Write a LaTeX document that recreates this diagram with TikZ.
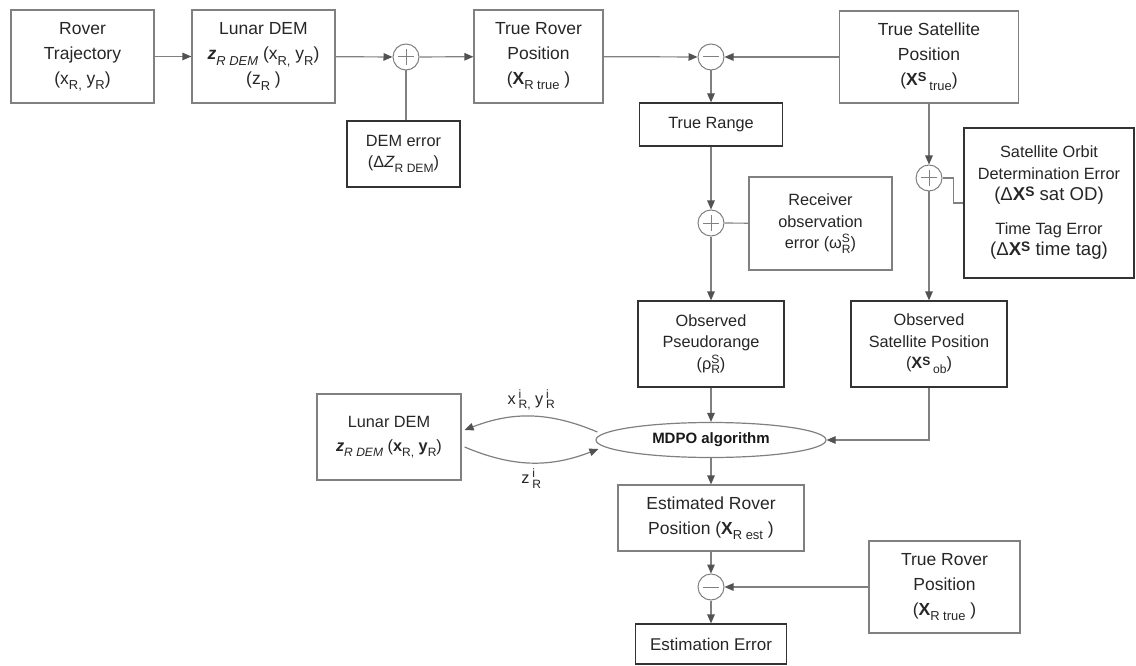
\documentclass[tikz,border=0pt]{standalone}
\usepackage{fontspec}
\setmainfont{Liberation Sans}
\usepackage{tikz}
\usetikzlibrary{positioning, calc, arrows.meta, shapes.geometric}
\tikzset{blk/.style={draw=black!50, line width=1.2pt, align=center, inner sep=2pt, text=black!85, font=\fontsize{17.5}{25}\selectfont}}
\tikzset{blkd/.style={blk, draw=black!80, font=\fontsize{16.3}{21.5}\selectfont}}
\tikzset{junc/.style={circle, draw=black!50, line width=1pt, minimum size=26pt, inner sep=0pt}}
\tikzset{sumplus/.style={junc, path picture={
      \draw[black!50, line width=1pt] ([xshift=-8pt]path picture bounding box.center) -- ([xshift=8pt]path picture bounding box.center)
        ([yshift=-8pt]path picture bounding box.center) -- ([yshift=8pt]path picture bounding box.center);}}}
\tikzset{summinus/.style={junc, path picture={
      \draw[black!50, line width=1pt] ([xshift=-8pt]path picture bounding box.center) -- ([xshift=8pt]path picture bounding box.center);}}}
\tikzset{wire/.style={draw=black!50, line width=1.2pt}}
\tikzset{flow/.style={wire, -{Triangle[length=9pt, width=7.5pt, color=black!68]}}}
\tikzset{lbl/.style={text=black!85, font=\fontsize{16.3}{20}\selectfont}}
\newcommand{\lo}[1]{\raisebox{-0.55ex}{\scalebox{0.74}{#1}}}
\newcommand{\hi}[1]{\raisebox{0.7ex}{\scalebox{0.74}{#1}}}
\newcommand{\satsup}[1]{\raisebox{0.45ex}{\scalebox{0.74}{#1}}}
\newcommand{\supsub}[2]{\rlap{\hi{#1}}\lo{#2}}

\begin{document}
\begin{tikzpicture}[x=1pt, y=-1pt]

      \useasboundingbox (0,0) rectangle (1136,666);

      % BLOCKS

      \node[blk, minimum width=143pt, minimum height=93pt] (traj) at (82.5,56.5)
        {Rover\\Trajectory\\(x\lo{R,} y\lo{R})};
      \node[blk, minimum width=143pt, minimum height=93pt] (dem) at (263.5,56.5)
        {Lunar DEM\\\textbf{\textit{z}}\lo{\textit{R DEM}} (x\lo{R,} y\lo{R})\\(z\lo{R} )};
      \node[blkd, minimum width=113pt, minimum height=66pt] (demerr) at (403.5,154)
        {DEM error\\(Δ\textit{Z}\lo{R DEM})};
      \node[blk, minimum width=129pt, minimum height=93pt] (truerov) at (538.5,56.5)
        {True Rover\\Position\\(\textbf{X}\lo{R true} )};
      \node[blk, minimum width=179pt, minimum height=92pt] (truesat) at (929,57)
        {True Satellite\\Position\\(\textbf{X\satsup{S}}\,\lo{true})};
      \node[blkd, minimum width=143pt, minimum height=43pt] (range) at (711,124.5) {True Range};
      \node[blk, font=\fontsize{16.3}{21.5}\selectfont, minimum width=143pt, minimum height=93pt] (recerr) at (820.5,223.5)
        {Receiver\\observation\\error (ω\supsub{S}{R})};
      \node[blkd, minimum width=170pt, minimum height=150pt] (orberr) at (1049,203)
        {Satellite Orbit\\Determination Error\\{\fontsize{18.6}{22}\selectfont (Δ\textbf{X\satsup{S}} sat OD)}\\[12pt]Time Tag Error\\{\fontsize{18.6}{22}\selectfont (Δ\textbf{X\satsup{S}} time tag)}};
      \node[blkd, minimum width=146pt, minimum height=86pt] (pseudo) at (711,344)
        {Observed\\Pseudorange\\(ρ\supsub{S}{R})};
      \node[blkd, minimum width=156pt, minimum height=86pt] (obssat) at (929,344)
        {Observed\\Satellite Position\\(\textbf{X\satsup{S}}\,\lo{ob})};
      \node[ellipse, draw=black!50, line width=1.2pt, minimum width=230pt, minimum height=35pt, inner sep=0pt,
        text=black!90, font=\bfseries\fontsize{15}{18}\selectfont] (mdpo) at (711,440) {MDPO algorithm};
      \node[blk, font=\fontsize{16.3}{24}\selectfont, minimum width=144pt, minimum height=86pt] (dem2) at (389,437)
        {Lunar DEM\\\textbf{\textit{z}}\lo{\textit{R DEM}} (\textbf{x}\lo{R,} \textbf{y}\lo{R})};
      \node[blk, minimum width=186pt, minimum height=66pt] (estpos) at (711,518)
        {Estimated Rover\\Position (\textbf{X}\lo{R est} )};
      \node[blk, minimum width=151pt, minimum height=92pt] (truerov2) at (944.5,587)
        {True Rover\\Position\\(\textbf{X}\lo{R true} )};
      \node[blkd, font=\fontsize{17}{22}\selectfont, minimum width=151pt, minimum height=40pt] (esterr) at (711,644) {Estimation Error};

      % SUMMING JUNCTIONS

      \node[sumplus] (sum1) at (406,57) {};
      \node[summinus] (diff1) at (711,57) {};
      \node[sumplus] (sum2) at (711,223) {};
      \node[sumplus] (sum3) at (929,178) {};
      \node[summinus] (diff2) at (711,587) {};

      % ARCS

      \draw[flow] (traj) -- (dem);
      \draw[flow] (dem) -- (sum1);
      \draw[flow] (sum1) -- (truerov);
      \draw[wire] (demerr.north -| sum1) -- (sum1);
      \draw[flow] (truerov) -- (diff1);
      \draw[flow] (truesat) -- (diff1);
      \draw[flow] (diff1) -- (range);
      \draw[flow] (range) -- (sum2);
      \draw[wire] (recerr) -- (sum2);
      \draw[flow] (sum2) -- (pseudo);
      \draw[flow] (truesat) -- (sum3);
      \draw[wire] (sum3.east) -| ($(orberr.west)-(10,0)$) -- (orberr.west);
      \draw[flow] (sum3) -- (obssat);
      \draw[flow] (pseudo) -- (mdpo);
      \draw[flow] (obssat.south) |- (mdpo.east);
      \draw[flow] ([xshift=2pt, yshift=8pt]mdpo.west) to[bend right=22]
        node[lbl, above=2pt] {x\,\supsub{i}{R,} y\,\supsub{i}{R}} ([xshift=3pt, yshift=7pt]dem2.east);
      \draw[flow] ([xshift=3pt, yshift=-10pt]dem2.east) to[bend right=22]
        node[lbl, below=2pt] {z\,\supsub{i}{R}} ([xshift=3pt, yshift=-9pt]mdpo.west);
      \draw[flow] (mdpo) -- (estpos);
      \draw[flow] (estpos) -- (diff2);
      \draw[flow] (truerov2) -- (diff2);
      \draw[flow] (diff2) -- (esterr);

    \end{tikzpicture}
\end{document}
